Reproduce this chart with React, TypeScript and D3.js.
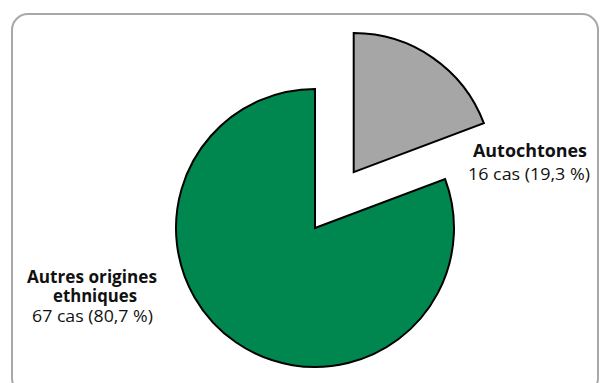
import React from "react";
import * as d3 from "d3";

const categories = ["Autochtones", "Autres origines ethniques"];
const cases = [16, 67];
const percents = ["19,3", "80,7"];
const colors = ["#a6a6a6", "#00874f"];

const W = 604;
const H = 383;

export default function App() {
  const cx = 315;
  const cy = 228;
  const r = 139;
  const explode = 68;
  const pie = d3.pie<number>().sort(null).value((d) => d);
  const arcs = pie(cases);
  const arcGen = d3.arc<d3.PieArcDatum<number>>().innerRadius(0).outerRadius(r);
  const font = "'Open Sans', Arial, sans-serif";
  const adj = "spacingAndGlyphs";

  return (
    <div style={{ position: "fixed", left: 0, top: 0 }}>
      <svg width={W} height={H} style={{ display: "block", background: "#fff" }}>
        <rect x={12} y={14} width={586} height={380} rx={16} ry={16} fill="#fff" stroke="#a8a8a8" strokeWidth={2} />
        {arcs.map((a, i) => {
          const mid = (a.startAngle + a.endAngle) / 2;
          const off = i === 0 ? explode : 0;
          const dx = Math.sin(mid) * off;
          const dy = -Math.cos(mid) * off;
          return (
            <path
              key={i}
              d={arcGen(a) || ""}
              transform={`translate(${cx + dx},${cy + dy})`}
              fill={colors[i]}
              stroke="#000"
              strokeWidth={2}
              strokeLinejoin="miter"
            />
          );
        })}
        <g fontFamily={font} fontSize={17} fill="#111" textAnchor="middle">
          <text x={530} y={157} fontWeight="bold" textLength={114} lengthAdjust={adj}>{categories[0]}</text>
          <text x={529} y={180} textLength={122} lengthAdjust={adj}>{`${cases[0]} cas (${percents[0]} %)`}</text>
          <text x={92} y={283} fontWeight="bold" textLength={130} lengthAdjust={adj}>Autres origines</text>
          <text x={95} y={302} fontWeight="bold" textLength={84} lengthAdjust={adj}>ethniques</text>
          <text x={92.5} y={322} textLength={121} lengthAdjust={adj}>{`${cases[1]} cas (${percents[1]} %)`}</text>
        </g>
      </svg>
    </div>
  );
}
